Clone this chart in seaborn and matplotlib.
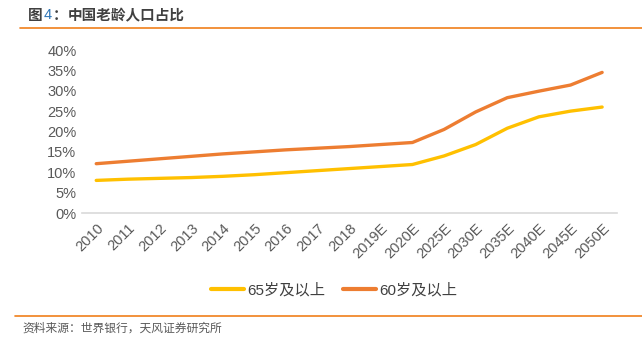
import matplotlib
matplotlib.use("Agg")
import matplotlib.pyplot as plt
import seaborn as sns
import pandas as pd
from matplotlib.lines import Line2D

categories = ["2010", "2011", "2012", "2013", "2014", "2015", "2016", "2017", "2018",
              "2019E", "2020E", "2025E", "2030E", "2035E", "2040E", "2045E", "2050E"]
age65 = [8.0, 8.3, 8.5, 8.7, 9.0, 9.4, 9.9, 10.4, 10.9, 11.4, 11.9, 14.0, 16.8, 20.8, 23.6, 25.0, 26.0]
age60 = [12.1, 12.7, 13.3, 13.9, 14.5, 15.0, 15.5, 15.9, 16.3, 16.8, 17.3, 20.5, 24.8, 28.3, 29.9, 31.4, 34.5]
series_names = ["65岁及以上", "60岁及以上"]
colors = ["#FFC000", "#ED7D31"]
yticks = [0, 5, 10, 15, 20, 25, 30, 35, 40]

sns.set_style("white")
plt.rcParams["font.family"] = ["Liberation Sans", "Noto Sans CJK SC", "DejaVu Sans"]

df = pd.DataFrame({
    "year": categories * 2,
    "value": [v / 100 for v in age65] + [v / 100 for v in age60],
    "series": [series_names[0]] * len(categories) + [series_names[1]] * len(categories),
})

fig = plt.figure(figsize=(6.42, 3.42), dpi=100)
ax = fig.add_axes([82 / 642, 1 - 213 / 342, 535 / 642, 163 / 342])
sns.lineplot(data=df, x="year", y="value", hue="series", palette=colors,
             linewidth=2.4, ax=ax, legend=False, sort=False)

ax.set_ylim(0, 0.4)
ax.set_xlim(-0.45, 16.47)
ax.set_yticks([t / 100 for t in yticks])
ax.set_yticklabels([f"{t}%" for t in yticks], fontsize=10.5, color="#595959")
ax.set_xticks(range(len(categories)))
ax.set_xticklabels(categories, rotation=45, ha="right", rotation_mode="anchor",
                   fontsize=10.5, color="#595959")
ax.tick_params(axis="both", length=0, pad=4)
ax.tick_params(axis="x", pad=6)
ax.set_xlabel("")
ax.set_ylabel("")
for s in ["top", "right", "left"]:
    ax.spines[s].set_visible(False)
ax.spines["bottom"].set_color("#D9D9D9")
ax.spines["bottom"].set_linewidth(1.2)
ax.grid(False)

handles = [Line2D([0], [0], color=c, lw=3) for c in colors]
fig.legend(handles, series_names, loc="center", bbox_to_anchor=(334 / 642, 1 - 290 / 342),
           ncol=2, frameon=False, fontsize=11, handlelength=2.15, handletextpad=0.2,
           columnspacing=1.2, labelcolor="#404040")

# title
cjk = ["Noto Sans CJK SC", "DejaVu Sans"]
fig.text(28 / 642, 1 - 15 / 342, "图", fontsize=10.5, fontweight="bold", color="#404040",
         va="center", ha="left", family=cjk)
fig.text(43.5 / 642, 1 - 15 / 342, "4", fontsize=10.5, color="#2E75B6", va="center", ha="left")
fig.text(53 / 642, 1 - 15 / 342, "：", fontsize=10.5, fontweight="bold",
         color="#404040", va="center", ha="left", family=cjk)
fig.text(68 / 642, 1 - 15 / 342, "中国老龄人口占比", fontsize=10.5, fontweight="bold",
         color="#404040", va="center", ha="left", family=cjk)
fig.add_artist(Line2D([20 / 642, 1.0], [1 - 28 / 342, 1 - 28 / 342], color="#F07F1A", lw=1.2))
fig.add_artist(Line2D([15 / 642, 1.0], [1 - 316 / 342, 1 - 316 / 342], color="#F07F1A", lw=1.2))
fig.text(22 / 642, 1 - 328 / 342, "资料来源：世界银行，天风证券研究所", fontsize=8.5,
         color="#595959", va="center", ha="left", family=cjk)

fig.savefig("out.png", dpi=100)
